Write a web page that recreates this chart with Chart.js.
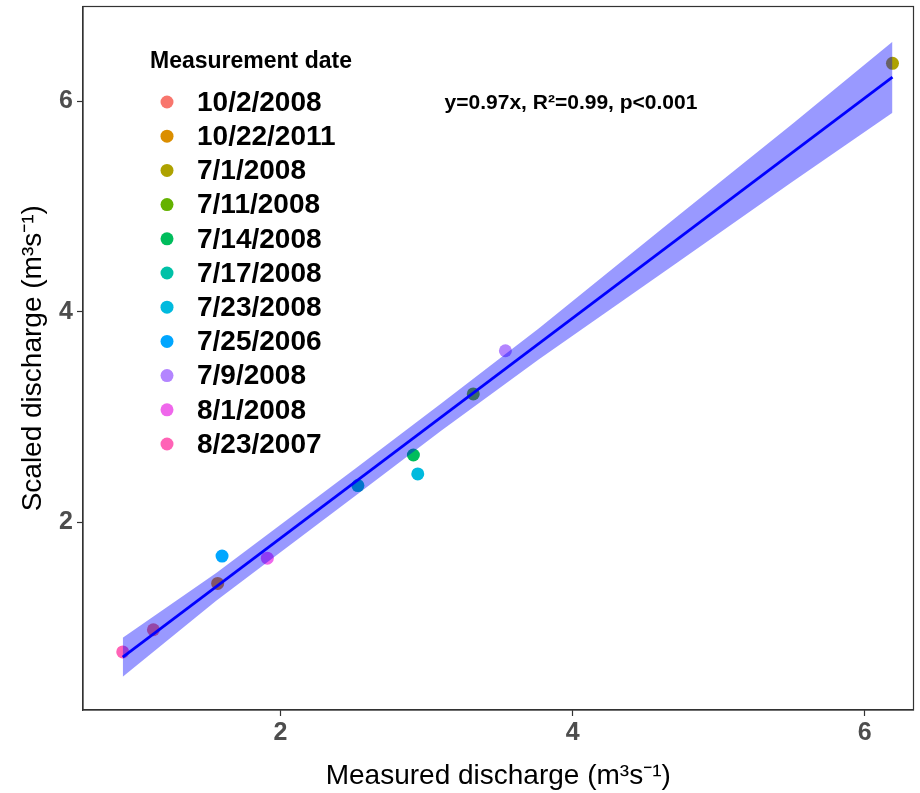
<!DOCTYPE html>
<html>
<head>
<meta charset="utf-8">
<script src="https://cdn.jsdelivr.net/npm/chart.js@4.4.1/dist/chart.umd.min.js"></script>
<style>
  body { margin: 0; background: #fff; }
  #wrap { width: 920px; height: 793px; }
</style>
</head>
<body>
<div id="wrap"><canvas id="chart" width="920" height="793"></canvas></div>
<script>
// measurement dates (legend order)
const dates = ["10/2/2008", "10/22/2011", "7/1/2008", "7/11/2008", "7/14/2008", "7/17/2008",
  "7/23/2008", "7/25/2006", "7/9/2008", "8/1/2008", "8/23/2007"];
const dateColors = ["#F8766D", "#DB8E00", "#AEA200", "#64B200", "#00BD5C", "#00C1A7",
  "#00BADE", "#00A6FF", "#B385FF", "#EF67EB", "#FF63B6"];
// measured vs scaled discharge, one point per date
const measured = [1.13, 1.57, 6.19, 3.32, 2.91, 2.53, 2.94, 1.60, 3.54, 1.91, 0.92];
const scaled = [0.98, 1.42, 6.36, 3.22, 2.64, 2.35, 2.46, 1.68, 3.63, 1.66, 0.77];

// fitted line and its confidence band
const fitX = [0.92, 6.19];
const fitY = [0.72, 6.23];
const bandX = [0.92, 1.56, 2.52, 3.10, 3.77, 4.72, 5.50, 6.19];
const bandUpper = [0.905, 1.52, 2.52, 3.13, 3.845, 4.91, 5.78, 6.565];
const bandLower = [0.535, 1.256, 2.26, 2.87, 3.55, 4.47, 5.23, 5.89];

const xTicks = [2, 4, 6];
const yTicks = [2, 4, 6];

const fitLabel = "y=0.97x, R\u00B2=0.99, p<0.001";
const FONT = "'Liberation Sans', Arial, sans-serif";

const pts = (xs, ys) => xs.map((x, i) => ({ x: x, y: ys[i] }));

const datasets = [
  {
    label: "fit",
    data: pts(fitX, fitY),
    showLine: true,
    borderColor: "#0000FF",
    borderWidth: 2.8,
    pointRadius: 0,
    fill: false,
    order: 0,
  },
  {
    label: "upper",
    data: pts(bandX, bandUpper),
    showLine: true,
    borderWidth: 0,
    borderColor: "rgba(0,0,0,0)",
    backgroundColor: "rgba(0,0,255,0.4)",
    pointRadius: 0,
    fill: "+1",
    order: 1,
  },
  {
    label: "lower",
    data: pts(bandX, bandLower),
    showLine: true,
    borderWidth: 0,
    borderColor: "rgba(0,0,0,0)",
    pointRadius: 0,
    fill: false,
    order: 2,
  },
];

dates.forEach((d, i) => {
  datasets.push({
    label: d,
    data: [{ x: measured[i], y: scaled[i] }],
    backgroundColor: dateColors[i],
    borderWidth: 0,
    pointRadius: 6.5,
    order: 3,
  });
});

// panel border, legend and fit label
const extras = {
  id: "extras",
  afterDraw(chart) {
    const { ctx, chartArea } = chart;
    ctx.save();
    ctx.strokeStyle = "#333333";
    ctx.lineWidth = 1.2;
    ctx.strokeRect(chartArea.left, chartArea.top,
      chartArea.right - chartArea.left, chartArea.bottom - chartArea.top);

    ctx.fillStyle = "#000";
    ctx.textBaseline = "middle";
    ctx.textAlign = "left";
    ctx.font = "bold 23px " + FONT;
    ctx.fillText("Measurement date", 150, 62);

    ctx.font = "bold 28px " + FONT;
    dates.forEach((d, i) => {
      const y = 102 + i * 34.2;
      ctx.beginPath();
      ctx.fillStyle = dateColors[i];
      ctx.arc(167, y, 6.5, 0, Math.PI * 2);
      ctx.fill();
      ctx.fillStyle = "#000";
      ctx.fillText(d, 197, y + 1);
    });

    ctx.textAlign = "center";
    ctx.font = "bold 21px " + FONT;
    ctx.fillText(fitLabel, 571, 103);
    ctx.restore();
  },
};

new Chart(document.getElementById("chart"), {
  type: "scatter",
  data: { datasets },
  options: {
    responsive: false,
    animation: false,
    devicePixelRatio: 1,
    layout: { padding: { top: 5, right: 1, left: 0, bottom: 0 } },
    plugins: {
      legend: { display: false },
      tooltip: { enabled: false },
    },
    elements: { line: { tension: 0 } },
    scales: {
      x: {
        type: "linear",
        min: 0.648,
        max: 6.334,
        afterBuildTicks: (s) => { s.ticks = xTicks.map((v) => ({ value: v })); },
        afterFit: (s) => { s.height = 83; s.paddingLeft = 0; s.paddingRight = 0; },
        grid: { drawOnChartArea: false, drawTicks: true, tickLength: 6, tickColor: "#333333", tickWidth: 1.2 },
        border: { display: true, color: "#333333", width: 1.2 },
        ticks: { color: "#4D4D4D", font: { family: FONT, size: 25, weight: "bold" }, padding: 2 },
        title: {
          display: true,
          text: "Measured discharge (m\u00B3s\u207B\u00B9)",
          color: "#000",
          font: { family: FONT, size: 28 },
          padding: { top: 4, bottom: 0 },
        },
      },
      y: {
        type: "linear",
        min: 0.218,
        max: 6.90,
        afterBuildTicks: (s) => { s.ticks = yTicks.map((v) => ({ value: v })); },
        afterFit: (s) => { s.width = 83; s.paddingTop = 0; s.paddingBottom = 0; },
        grid: { drawOnChartArea: false, drawTicks: true, tickLength: 6, tickColor: "#333333", tickWidth: 1.2 },
        border: { display: true, color: "#333333", width: 1.2 },
        ticks: { color: "#4D4D4D", font: { family: FONT, size: 25, weight: "bold" }, padding: 4 },
        title: {
          display: true,
          text: "Scaled discharge (m\u00B3s\u207B\u00B9)",
          color: "#000",
          font: { family: FONT, size: 28 },
          padding: { top: 16, bottom: 2 },
        },
      },
    },
  },
  plugins: [extras],
});
</script>
</body>
</html>
